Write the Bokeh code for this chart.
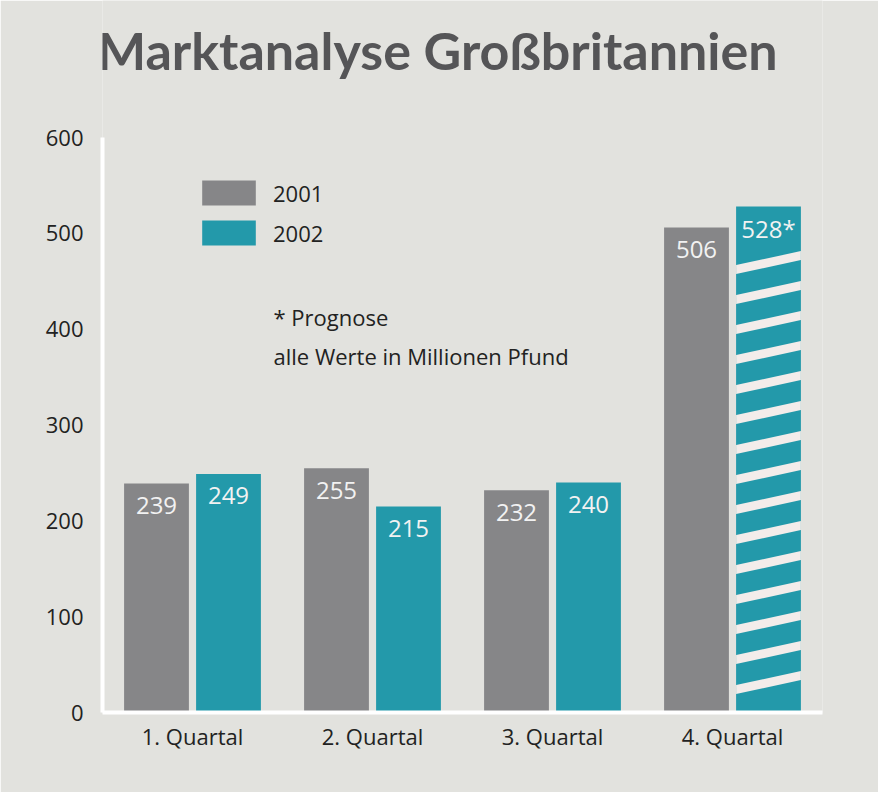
from bokeh.plotting import figure
from bokeh.models import Range1d, FixedTicker, Label, Legend, LegendItem
from bokeh.core.properties import value
from bokeh.embed import file_html
from bokeh.resources import INLINE

quarters = ["1. Quartal", "2. Quartal", "3. Quartal", "4. Quartal"]
sales_2001 = [239, 255, 232, 506]
sales_2002 = [249, 215, 240, 528]
labels_2002 = ["249", "215", "240", "528*"]
forecast = [False, False, False, True]
y_ticks = [0, 100, 200, 300, 400, 500, 600]

BG = "#e2e2de"
GREY = "#868688"
TEAL = "#2399aa"
FONT = "Open Sans"
TITLE_FONT = "Lato"

# frame reaches to the top of the canvas so the title can live inside it;
# the y axis line itself stops at 600
p = figure(width=878, height=792, output_backend="svg", toolbar_location=None,
           x_range=Range1d(0, 4), y_range=Range1d(0, 743),
           background_fill_color=BG, border_fill_color=BG, outline_line_color=None,
           min_border_left=102, min_border_right=56, min_border_top=0, min_border_bottom=80)
p.grid.visible = False

xc = [i + 0.5 for i in range(len(quarters))]
x_old = [x - 0.2 for x in xc]
x_new = [x + 0.2 for x in xc]

r1 = p.vbar(x=x_old, top=sales_2001, width=0.36, fill_color=GREY, line_color=None)
r2 = p.vbar(x=x_new, top=sales_2002, width=0.36, fill_color=TEAL, line_color=None)

# white slanted stripes over the forecast bar
step, rise, thick, hw = 31.3, 14.6, 9.4, 0.18
xs, ys = [], []
for x, v, f in zip(x_new, sales_2002, forecast):
    if not f:
        continue
    k = 1
    while k * step < v - 40:
        yc = k * step
        xs.append([x - hw, x + hw, x + hw, x - hw])
        ys.append([yc - rise / 2 - thick / 2, yc + rise / 2 - thick / 2,
                   yc + rise / 2 + thick / 2, yc - rise / 2 + thick / 2])
        k += 1
p.patches(xs, ys, fill_color="#f3ecea", line_color=None)

# value labels inside the bars
p.text(x=x_old, y=sales_2001, text=[str(v) for v in sales_2001], text_align="center",
       text_baseline="alphabetic", y_offset=22, text_color="#f2f2f2",
       text_font=value(FONT), text_font_size="24px")
p.text(x=x_new, y=sales_2002, text=labels_2002, text_align="center",
       text_baseline="alphabetic", y_offset=22, text_color="#f2f2f2",
       text_font=value(FONT), text_font_size="24px")

p.xaxis.ticker = FixedTicker(ticks=xc)
p.xaxis.major_label_overrides = {x: q for x, q in zip(xc, quarters)}
p.yaxis.ticker = FixedTicker(ticks=y_ticks)
p.yaxis.bounds = (0, 600)
for ax in (p.xaxis, p.yaxis):
    ax.axis_line_color = "white"
    ax.axis_line_width = 4
    ax.major_tick_line_color = None
    ax.minor_tick_line_color = None
    ax.major_label_text_font = FONT
    ax.major_label_text_font_size = "22px"
    ax.major_label_text_color = "#222222"
p.xaxis.major_label_standoff = 2
p.yaxis.major_label_standoff = 13

legend = Legend(items=[LegendItem(label="2001", renderers=[r1]),
                       LegendItem(label="2002", renderers=[r2])],
                location=(93, 464), padding=0, spacing=9, margin=0,
                glyph_width=67, glyph_height=31, label_height=31, label_standoff=11,
                label_text_font=FONT, label_text_font_size="22px", label_text_color="#222222",
                background_fill_alpha=0, border_line_color=None)
p.add_layout(legend, "center")

p.add_layout(Label(x=0.95, y=413, text="* Prognose", text_font=FONT, text_baseline="alphabetic",
                   text_font_size="22px", text_color="#222222"))
p.add_layout(Label(x=0.95, y=372, text="alle Werte in Millionen Pfund", text_font=FONT,
                   text_baseline="alphabetic", text_font_size="22px", text_color="#222222"))
p.add_layout(Label(x=1.86, y=691, text="Marktanalyse Großbritannien", text_align="center",
                   text_baseline="alphabetic", text_font=TITLE_FONT, text_font_style="bold",
                   text_font_size="52px", text_color="#555557"))

open("out.html", "w").write(file_html(p, INLINE))
